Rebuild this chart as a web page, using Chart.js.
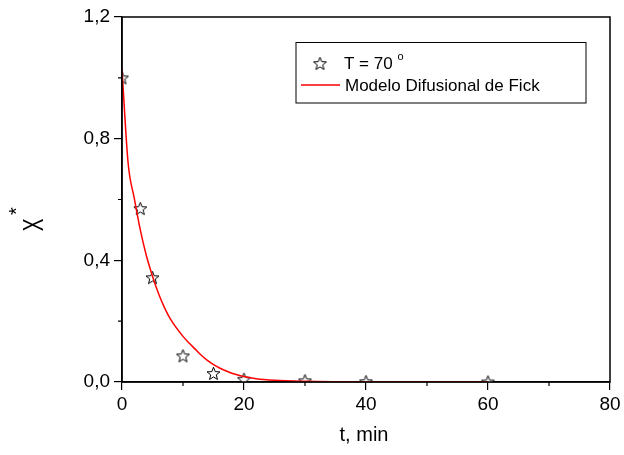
<!DOCTYPE html>
<html lang="es">
<head>
    <meta charset="UTF-8">
    <title>X* vs t</title>
    <script src="https://cdn.jsdelivr.net/npm/chart.js"></script>
    <style>
        body {
            margin: 0;
            background: #ffffff;
        }
        #grafico {
            display: block;
        }
    </style>
</head>
<body>
    <canvas id="grafico" width="624" height="455"></canvas>

    <script>
        // datos experimentales (T = 70 °)
        const tiempo = [0, 3, 5, 10, 15, 20, 30, 40, 60];
        const xExp = [1.0, 0.57, 0.343, 0.086, 0.028, 0.009, 0.004, 0.001, 0.0];

        // modelo difusional de Fick
        const tModelo = [0, 1, 2, 3, 4, 5, 6, 7, 8, 10, 11, 12, 13, 14, 15, 16, 17, 18, 19, 20,
                         22, 25, 30, 35, 40, 50, 60];
        const xModelo = [1.027, 0.72, 0.605, 0.50, 0.415, 0.348, 0.29, 0.243, 0.205, 0.15, 0.128,
                         0.108, 0.088, 0.071, 0.057, 0.046, 0.037, 0.029, 0.023, 0.018,
                         0.011, 0.006, 0.0025, 0.001, 0.0004, 0.0001, 0.0];

        const xTicks = [0, 20, 40, 60, 80];
        const xMinor = [10, 30, 50, 70];
        const yTicks = [0, 0.4, 0.8, 1.2];
        const yMinor = [0.2, 0.6, 1.0];

        const fuente = "'Liberation Sans', Arial, sans-serif";

        // estrella de 5 puntas, contorno negro
        const estrella = document.createElement('canvas');
        estrella.width = 17;
        estrella.height = 17;
        (function () {
            const c = estrella.getContext('2d');
            c.beginPath();
            for (let i = 0; i < 10; i++) {
                const r = i % 2 === 0 ? 6.8 : 2.9;
                const a = -Math.PI / 2 + i * Math.PI / 5;
                const px = 8.5 + r * Math.cos(a);
                const py = 9 + r * Math.sin(a);
                if (i === 0) c.moveTo(px, py); else c.lineTo(px, py);
            }
            c.closePath();
            c.fillStyle = '#ffffff';
            c.fill();
            c.strokeStyle = '#000000';
            c.lineWidth = 1;
            c.stroke();
        })();

        const extras = {
            id: 'extras',
            afterDraw(chart) {
                const ctx = chart.ctx;
                const a = chart.chartArea;
                const sx = chart.scales.x;
                const sy = chart.scales.y;
                ctx.save();
                // marco
                ctx.strokeStyle = '#000';
                ctx.lineWidth = 1.5;
                ctx.strokeRect(a.left, a.top, a.right - a.left, a.bottom - a.top);
                // ticks menores
                ctx.lineWidth = 1.2;
                ctx.beginPath();
                xMinor.forEach(v => {
                    const px = sx.getPixelForValue(v);
                    ctx.moveTo(px, a.bottom);
                    ctx.lineTo(px, a.bottom + 4);
                });
                yMinor.forEach(v => {
                    const py = sy.getPixelForValue(v);
                    ctx.moveTo(a.left, py);
                    ctx.lineTo(a.left - 4, py);
                });
                ctx.stroke();

                // titulo eje x
                ctx.fillStyle = '#000';
                ctx.font = '20px ' + fuente;
                ctx.textAlign = 'center';
                ctx.textBaseline = 'middle';
                ctx.fillText('t, min', (a.left + a.right) / 2 - 2, 435);

                // titulo eje y: X*
                ctx.save();
                ctx.translate(35, 225);
                ctx.rotate(-Math.PI / 2);
                ctx.save();
                ctx.scale(1, 1.6);
                ctx.font = '19px ' + fuente;
                ctx.fillText('X', 0, 0);
                ctx.restore();
                ctx.font = '20px ' + fuente;
                ctx.fillText('*', 14, -18);
                ctx.restore();

                // leyenda
                ctx.lineWidth = 1;
                ctx.strokeRect(296, 42.5, 290, 60.5);
                ctx.drawImage(estrella, 320 - 8.5, 64 - 9);
                ctx.font = '17px ' + fuente;
                ctx.textAlign = 'left';
                ctx.fillText('T = 70 ', 344, 64);
                const w = ctx.measureText('T = 70 ').width;
                ctx.font = '11px ' + fuente;
                ctx.fillText('o', 344 + w, 57);
                ctx.strokeStyle = '#ff0000';
                ctx.lineWidth = 1.3;
                ctx.beginPath();
                ctx.moveTo(301, 85);
                ctx.lineTo(340, 85);
                ctx.stroke();
                ctx.font = '17px ' + fuente;
                ctx.fillText('Modelo Difusional de Fick', 345, 86);
                ctx.restore();
            }
        };

        const grafico = new Chart(document.getElementById('grafico'), {
            type: 'scatter',
            data: {
                datasets: [
                    {
                        label: 'Modelo Difusional de Fick',
                        data: tModelo.map((t, i) => ({ x: t, y: xModelo[i] })),
                        showLine: true,
                        borderColor: '#ff0000',
                        borderWidth: 1.5,
                        pointRadius: 0,
                        cubicInterpolationMode: 'monotone',
                        order: 0
                    },
                    {
                        label: 'T = 70 °',
                        data: tiempo.map((t, i) => ({ x: t, y: xExp[i] })),
                        pointStyle: estrella,
                        pointRadius: 8,
                        order: 1
                    }
                ]
            },
            options: {
                responsive: false,
                animation: false,
                layout: { padding: { top: 17, right: 14, left: 0, bottom: 0 } },
                plugins: {
                    legend: { display: false },
                    tooltip: { enabled: false }
                },
                scales: {
                    x: {
                        type: 'linear',
                        min: 0,
                        max: 80,
                        afterFit: s => { s.height = 73; },
                        afterBuildTicks: s => { s.ticks = xTicks.map(v => ({ value: v })); },
                        ticks: {
                            color: '#000',
                            font: { family: fuente, size: 19 },
                            padding: 3,
                            maxRotation: 0
                        },
                        grid: { drawOnChartArea: false, tickLength: 8, color: '#000', lineWidth: 1.2 },
                        border: { color: '#000', width: 1.5 }
                    },
                    y: {
                        min: 0,
                        max: 1.2,
                        afterFit: s => { s.width = 122; },
                        afterBuildTicks: s => { s.ticks = yTicks.map(v => ({ value: v })); },
                        ticks: {
                            color: '#000',
                            font: { family: fuente, size: 19 },
                            padding: 4,
                            callback: v => v.toFixed(1).replace('.', ',')
                        },
                        grid: { drawOnChartArea: false, tickLength: 8, color: '#000', lineWidth: 1.2 },
                        border: { color: '#000', width: 1.5 }
                    }
                }
            },
            plugins: [extras]
        });
    </script>
</body>
</html>
